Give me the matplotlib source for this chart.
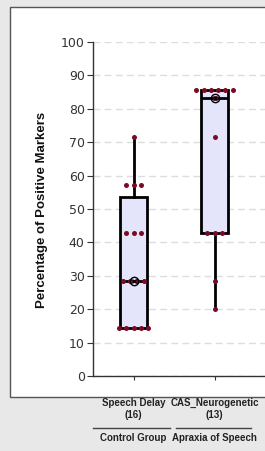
import numpy as np
import matplotlib
matplotlib.use("Agg")
import matplotlib.pyplot as plt
from matplotlib.patches import Rectangle
from matplotlib.lines import Line2D
import matplotlib.transforms as mtransforms

# ---- data ----
categories = ["Speech Delay", "CAS_Neurogenetic"]
counts = [16, 13]
groups = ["Control Group", "Apraxia of Speech"]
speech_delay_vals = [14.29]*5 + [28.57]*4 + [42.86]*3 + [57.14]*3 + [71.43]
cas_vals = [85.71]*6 + [83.33] + [71.43] + [42.86]*3 + [28.57] + [20.0]
q1 = [14.29, 42.86]
q3 = [53.57, 85.71]
medians = [28.57, 83.33]
whislo = [14.29, 20.0]
whishi = [71.43, 85.71]
yticks = list(range(0, 101, 10))

W, H = 265, 451
fig = plt.figure(figsize=(W/100, H/100), dpi=100)
fig.patch.set_facecolor("#e8e8e8")

# white panel
panel = Rectangle((10/W, 1 - 397/H), 300/W, (397-7)/H, transform=fig.transFigure,
                  facecolor="white", edgecolor="#555555", lw=1.0, zorder=-5)
fig.patches.append(panel)

ax = fig.add_axes([93/W, 75/H, 243/W, 334/H])
ax.set_facecolor("none")
ax.set_xlim(-0.5, 2.5)
ax.set_ylim(0, 100)

stats = []
for i in range(2):
    stats.append(dict(med=medians[i], q1=q1[i], q3=q3[i], whislo=whislo[i],
                      whishi=whishi[i], fliers=[]))
ax.bxp(stats, positions=[0, 1], widths=0.33, patch_artist=True, showcaps=False,
       showfliers=False,
       boxprops=dict(facecolor="#e4e4fb", edgecolor="black", lw=2),
       whiskerprops=dict(color="black", lw=2),
       medianprops=dict(color="black", lw=2), zorder=3)

# beeswarm-like points
spacing = 0.09
for pos, vals in zip([0, 1], [speech_delay_vals, cas_vals]):
    vals = np.array(vals)
    for v in np.unique(vals):
        n = np.sum(vals == v)
        offs = (np.arange(n) - (n-1)/2) * spacing
        ax.scatter(pos + offs, [v]*n, s=13, color="#7d0a25", zorder=5, lw=0)

# median markers
for pos, m in zip([0, 1], medians):
    ax.plot(pos, m, marker="o", ms=6, mfc="none", mec="black", mew=1.0, zorder=6)
    ax.plot(pos, m, marker="x", ms=3.5, color="black", mew=0.9, zorder=6)

ax.set_yticks(yticks)
ax.set_yticklabels([str(t) for t in yticks], fontsize=9, color="#333333",
                   family="DejaVu Sans")
ax.yaxis.grid(True, color="#dddddd", ls=(0, (5, 3)), lw=1)
ax.set_axisbelow(True)
ax.tick_params(axis="y", length=4, color="#333333", pad=2)
ax.tick_params(axis="x", length=3, color="#333333", pad=13)
ax.set_xticks([0, 1])
ax.set_xticklabels([f"{c}\n({n})" for c, n in zip(categories, counts)],
                   fontsize=7, fontweight="bold", family="Liberation Sans",
                   color="#222222", linespacing=1.25)
for s in ["top", "right"]:
    ax.spines[s].set_visible(False)
for s in ["left", "bottom"]:
    ax.spines[s].set_color("#333333")
    ax.spines[s].set_linewidth(1)

fig.text(42/W, 1 - 210/H, "Percentage of Positive Markers", rotation=90,
         ha="center", va="center", fontsize=9.5, fontweight="bold",
         family="Liberation Sans", color="#111111")

# group separators and labels
tr = mtransforms.blended_transform_factory(ax.transData, fig.transFigure)
ysep = 1 - 428/H
for x0, x1 in [(-0.5, 0.45), (0.52, 1.45)]:
    ax.add_line(Line2D([x0, x1], [ysep, ysep], transform=tr, color="#444444",
                       lw=1, clip_on=False))
for pos, g in zip([0, 1], groups):
    ax.text(pos, 1 - 438/H, g, transform=tr, ha="center", va="center",
            fontsize=7, fontweight="bold", family="Liberation Sans", color="#222222")

fig.savefig("out.png", dpi=100, facecolor=fig.get_facecolor())
